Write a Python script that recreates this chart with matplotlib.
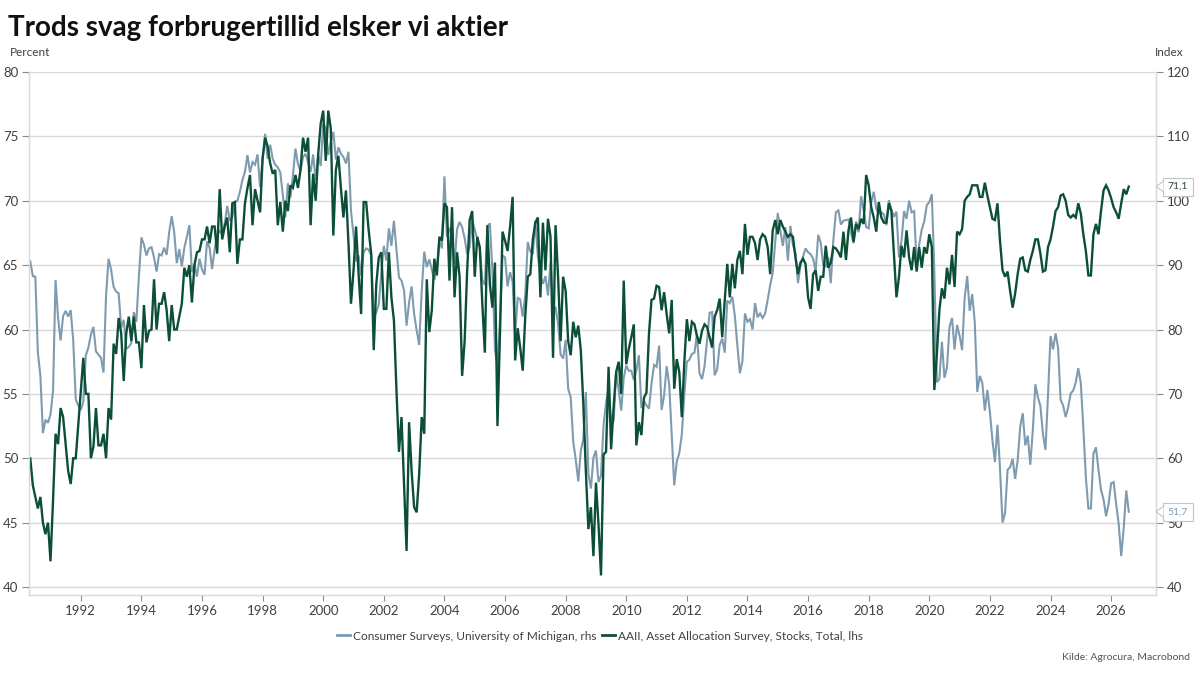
import numpy as np
import matplotlib
matplotlib.use("Agg")
import matplotlib.pyplot as plt
from matplotlib.lines import Line2D
from matplotlib.patches import Polygon, Rectangle

plt.rcParams['font.family'] = ['Lato', 'DejaVu Sans']

# ---------------- data ----------------
start_year, start_month = 1990, 5   # first observation: May 1990, monthly

# University of Michigan consumer sentiment (rhs, index)
michigan = [
    90.6, 88.3, 88.2, 76.4, 72.8, 63.9, 66.0, 65.5,
    66.8, 70.4, 87.7, 81.8, 78.3, 82.1, 82.9, 82.0, 83.0, 78.3, 69.1, 68.2,
    67.5, 68.8, 76.0, 77.2, 79.2, 80.4, 76.6, 76.1, 75.6, 73.3, 85.3, 91.0,
    89.3, 86.6, 85.9, 85.6, 80.3, 81.5, 77.0, 77.3, 77.9, 82.7, 81.2, 88.2,
    94.3, 93.2, 91.5, 92.6, 92.8, 91.2, 89.0, 91.7, 91.5, 92.7, 91.6, 95.1,
    97.6, 95.1, 90.3, 92.5, 89.8, 92.7, 94.4, 96.2, 88.9, 90.2, 88.2, 91.0,
    89.3, 88.5, 93.7, 92.7, 89.4, 92.4, 94.7, 95.3, 94.7, 96.5, 99.2, 96.9,
    97.4, 99.7, 100.0, 101.4, 103.2, 104.5, 107.1, 104.4, 106.0, 105.6, 107.2, 102.1,
    106.6, 110.4, 106.5, 108.7, 106.5, 105.6, 105.2, 104.4, 100.9, 97.4, 102.7, 100.5,
    103.9, 108.1, 105.7, 104.6, 106.8, 107.3, 106.0, 104.5, 107.2, 103.2, 107.2, 105.4,
    112.0, 111.3, 107.1, 109.2, 110.7, 106.4, 108.3, 107.3, 106.8, 105.8, 107.6, 98.4,
    94.7, 90.6, 91.5, 88.4, 92.0, 92.6, 92.4, 91.5, 81.8, 82.7, 83.9, 88.8,
    93.0, 90.7, 95.7, 93.0, 96.9, 92.4, 88.1, 87.6, 86.1, 80.6, 84.2, 86.7,
    82.4, 79.9, 77.6, 86.0, 92.1, 89.7, 90.9, 89.3, 87.7, 89.6, 93.7, 92.6,
    103.8, 94.4, 95.8, 94.2, 90.2, 95.6, 96.7, 95.9, 94.2, 91.7, 92.8, 97.1,
    95.5, 94.1, 92.6, 87.7, 86.9, 96.0, 96.5, 89.1, 76.9, 74.2, 81.6, 91.5,
    91.2, 86.7, 88.9, 87.4, 79.1, 84.9, 84.7, 82.0, 85.4, 93.6, 92.1, 91.7,
    96.9, 91.3, 88.4, 87.1, 88.3, 85.3, 90.4, 83.4, 83.4, 80.9, 76.1, 75.5,
    78.4, 70.8, 69.5, 62.6, 59.8, 56.4, 61.2, 63.0, 70.3, 57.6, 55.3, 60.1,
    61.2, 56.3, 57.3, 65.1, 68.7, 70.8, 66.0, 65.7, 73.5, 70.6, 67.4, 72.5,
    74.4, 73.6, 73.6, 72.2, 73.6, 76.0, 67.8, 68.9, 68.2, 67.7, 71.6, 74.5,
    74.2, 77.5, 67.5, 69.8, 74.3, 71.5, 63.7, 55.8, 59.5, 60.8, 63.7, 69.9,
    75.0, 75.3, 76.2, 76.4, 79.3, 73.2, 72.3, 74.3, 78.3, 82.6, 82.7, 72.9,
    73.8, 77.6, 78.6, 76.4, 84.5, 84.1, 85.1, 82.1, 77.5, 73.2, 75.1, 82.5,
    81.2, 81.6, 80.0, 84.1, 81.9, 82.5, 81.8, 82.5, 84.6, 86.9, 88.8, 93.6,
    98.1, 95.4, 93.0, 95.9, 90.7, 96.1, 93.1, 91.9, 87.2, 90.0, 91.3, 92.6,
    92.0, 91.7, 91.0, 89.0, 94.7, 93.5, 90.0, 89.8, 91.2, 87.2, 93.8, 98.2,
    98.5, 96.3, 96.9, 97.0, 97.1, 95.0, 93.4, 96.8, 95.1, 100.7, 98.5, 95.9,
    95.7, 99.7, 101.4, 98.8, 98.0, 98.2, 97.9, 96.2, 100.1, 98.6, 97.5, 98.3,
    91.2, 93.8, 98.4, 97.2, 100.0, 98.2, 98.4, 89.8, 93.2, 95.5, 96.8, 99.3,
    99.8, 101.0, 89.1, 71.8, 72.3, 78.1, 72.5, 74.1, 80.4, 81.8, 76.9, 80.7,
    79.0, 76.8, 84.9, 88.3, 82.9, 85.5, 81.2, 70.3, 72.8, 71.7, 67.4, 70.6,
    67.2, 62.8, 59.4, 65.2, 58.4, 50.0, 51.5, 58.2, 58.6, 59.9, 56.8, 59.7,
    64.9, 67.0, 62.0, 63.5, 59.0, 64.4, 71.5, 69.5, 68.1, 63.8, 61.3, 69.7,
    79.0, 76.9, 79.4, 77.2, 69.1, 68.2, 66.4, 67.9, 70.1, 70.5, 71.8, 74.0,
    71.7, 64.7, 57.0, 52.2, 52.2, 60.7, 61.7, 58.2, 55.1, 53.6, 51.0, 52.9,
    56.1, 56.3, 52.9, 49.8, 44.8, 49.2, 55.0, 51.7,
]

# AAII Asset Allocation Survey, stocks, total (lhs, percent)
aaii = [
    50.0, 47.9, 47.0, 46.1, 47.0, 45.0, 44.1, 45.0,
    42.0, 46.7, 51.9, 51.1, 53.9, 53.2, 51.1, 49.0, 48.0, 50.0, 50.0, 52.6,
    55.3, 57.8, 55.0, 55.0, 50.0, 50.9, 53.9, 51.0, 51.0, 51.9, 50.0, 53.9,
    53.0, 58.9, 58.1, 60.9, 59.7, 56.0, 59.7, 61.0, 59.1, 61.0, 59.0, 59.0,
    57.0, 61.9, 59.0, 59.9, 60.0, 63.9, 60.0, 62.0, 62.0, 62.9, 61.5, 59.1,
    61.9, 60.0, 60.0, 61.0, 62.0, 64.8, 64.1, 65.0, 62.1, 65.0, 66.0, 66.1,
    67.0, 67.0, 68.0, 66.7, 68.0, 68.0, 65.9, 70.9, 67.0, 68.0, 68.7, 66.0,
    69.8, 69.9, 65.1, 67.0, 67.0, 69.8, 71.0, 72.0, 68.1, 70.9, 70.0, 69.1,
    73.3, 74.9, 74.2, 72.9, 72.1, 72.4, 68.1, 69.9, 67.6, 70.0, 69.2, 71.2,
    71.0, 72.0, 71.0, 72.4, 74.9, 73.8, 74.9, 68.1, 72.1, 70.0, 73.6, 76.0,
    77.0, 73.1, 77.0, 75.6, 67.3, 72.4, 73.5, 71.0, 68.7, 70.8, 66.7, 62.0,
    64.6, 68.0, 64.3, 61.2, 69.9, 69.9, 67.7, 65.9, 58.4, 63.5, 65.6, 66.0,
    61.6, 61.6, 66.0, 62.5, 60.7, 55.3, 50.5, 53.2, 48.0, 42.8, 52.8, 49.0,
    46.2, 45.8, 48.8, 53.2, 51.9, 63.9, 59.8, 61.5, 65.5, 64.2, 67.2, 66.9,
    69.8, 69.5, 63.8, 69.5, 62.5, 66.0, 64.1, 56.4, 59.1, 64.6, 68.5, 69.2,
    64.1, 67.2, 66.4, 62.0, 58.2, 68.1, 63.5, 61.7, 65.2, 52.5, 59.7, 67.6,
    66.9, 66.1, 68.0, 70.3, 57.6, 60.1, 58.6, 56.8, 61.0, 64.1, 64.3, 67.0,
    68.3, 68.7, 62.5, 68.3, 64.6, 68.6, 67.2, 57.8, 68.1, 64.1, 59.1, 64.1,
    63.0, 59.1, 58.0, 60.6, 59.4, 60.3, 58.4, 54.2, 49.0, 44.5, 46.2, 42.4,
    48.1, 44.9, 40.9, 50.3, 50.5, 57.1, 50.7, 54.0, 56.7, 57.5, 55.0, 63.8,
    57.3, 58.5, 59.4, 60.4, 51.0, 52.8, 51.8, 54.7, 55.1, 59.7, 62.3, 62.4,
    63.4, 63.3, 61.5, 62.9, 61.2, 59.7, 62.3, 55.4, 57.7, 56.7, 53.2, 57.5,
    60.8, 59.1, 60.6, 60.4, 59.5, 58.9, 59.9, 60.4, 60.2, 59.4, 58.6, 61.0,
    61.5, 62.4, 59.4, 62.3, 65.1, 62.5, 65.1, 63.2, 65.4, 66.1, 64.3, 68.2,
    65.8, 67.2, 67.2, 66.7, 65.4, 67.0, 67.4, 67.2, 66.4, 64.3, 67.7, 68.5,
    67.4, 68.5, 68.0, 67.6, 67.2, 67.4, 67.2, 65.6, 64.3, 65.2, 65.5, 65.1,
    62.5, 61.6, 64.3, 64.6, 63.0, 64.1, 64.1, 66.5, 64.8, 65.2, 66.4, 66.3,
    66.0, 65.6, 67.6, 65.4, 67.7, 68.7, 66.8, 68.2, 67.8, 68.6, 68.2, 72.0,
    71.2, 69.5, 68.7, 67.6, 69.9, 68.7, 68.3, 68.3, 69.8, 69.2, 65.9, 62.5,
    64.1, 66.5, 65.6, 67.7, 65.6, 64.6, 66.4, 64.5, 66.4, 64.8, 66.4, 65.9,
    67.4, 66.4, 55.3, 58.1, 61.5, 63.2, 62.4, 64.8, 63.5, 65.8, 63.3, 67.6,
    67.4, 67.8, 70.0, 70.3, 70.5, 71.2, 71.2, 71.2, 70.3, 70.3, 71.4, 70.4,
    69.5, 68.6, 68.5, 69.8, 66.9, 64.6, 64.1, 64.5, 63.0, 61.7, 62.8, 64.3,
    65.5, 65.6, 64.6, 64.5, 65.4, 66.1, 67.0, 67.0, 65.9, 64.5, 64.6, 66.4,
    67.0, 68.0, 69.2, 69.5, 70.4, 70.5, 70.0, 68.9, 68.7, 68.9, 68.7, 69.8,
    69.0, 67.4, 66.1, 64.2, 64.2, 67.4, 68.2, 67.4, 69.2, 70.8, 71.2, 70.8,
    70.2, 69.5, 69.1, 68.6, 69.8, 70.9, 70.5, 71.1,
]

year_ticks = list(range(1992, 2027, 2))
lhs_ticks = [40, 45, 50, 55, 60, 65, 70, 75, 80]
rhs_ticks = [40, 50, 60, 70, 80, 90, 100, 110, 120]

title = "Trods svag forbrugertillid elsker vi aktier"
mich_label = "Consumer Surveys, University of Michigan, rhs"
aaii_label = "AAII, Asset Allocation Survey, Stocks, Total, lhs"
source = "Kilde: Agrocura, Macrobond"

# decimal-year time axis (start of month)
n = len(aaii)
t = start_year + (start_month - 1) / 12 + np.arange(n) / 12.0

GREEN = "#0c4f39"
GREY = "#7f9bb0"
TXT = "#404040"
GRID = "#d9d9d9"

# ---------------- figure ----------------
fig = plt.figure(figsize=(12, 6.73), dpi=100)
ax2 = fig.add_axes([0.0244, 0.1159, 0.9389, 0.7771])   # rhs, drawn below
ax = ax2.twinx()
ax.yaxis.tick_left()
ax.yaxis.set_label_position("left")
ax2.yaxis.tick_right()
ax2.yaxis.set_label_position("right")
ax.set_zorder(ax2.get_zorder() + 1)
ax.patch.set_visible(False)

ax2.plot(t, michigan, color=GREY, lw=1.5, label=mich_label, solid_joinstyle="miter")
ax.plot(t, aaii, color=GREEN, lw=1.7, label=aaii_label, solid_joinstyle="miter")

ax.set_xlim(1990.30, 2027.48)
ax.set_ylim(39.38, 80)
ax2.set_ylim(38.76, 120)

ax.set_yticks(lhs_ticks)
ax2.set_yticks(rhs_ticks)
ax2.set_xticks(year_ticks)
ax2.set_xticklabels([str(y) for y in year_ticks])
ax2.grid(axis="y", color=GRID, lw=1.0)
ax2.set_axisbelow(True)

for a in (ax, ax2):
    for s in a.spines.values():
        s.set_color(GRID)
        s.set_linewidth(0.9)
    a.spines["top"].set_visible(False)
    a.tick_params(colors="#8a8a8a", labelcolor=TXT, labelsize=9.5, length=5, width=0.8)
ax.tick_params(axis="y", pad=3)
ax2.tick_params(axis="y", pad=3)
ax2.tick_params(axis="x", pad=3, length=4)
ax.tick_params(axis="x", bottom=False, labelbottom=False)

# axis unit labels
fig.text(10 / 1200, 1 - 53 / 673, "Percent", fontsize=8.5, color=TXT, va="center", ha="left")
fig.text(1184 / 1200, 1 - 53 / 673, "Index", fontsize=8.5, color=TXT, va="center", ha="right")

# title
fig.text(8 / 1200, 1 - 28 / 673, title, fontsize=20, fontweight="bold", color="#111111",
         va="center", ha="left")

# legend
handles = [Line2D([0], [0], color=GREY, lw=2.0), Line2D([0], [0], color=GREEN, lw=2.0)]
fig.legend(handles, [mich_label, aaii_label], loc="center", bbox_to_anchor=(0.5, 1 - 636 / 673),
           ncol=2, frameon=False, fontsize=8.6, handlelength=1.1, handletextpad=0.25,
           columnspacing=0.45, labelcolor=TXT)

# source
fig.text(1190 / 1200, 1 - 657 / 673, source, fontsize=7.5, color="#555555", ha="right", va="center")

# end-value tags on the right
fig.canvas.draw()
def tag(axis, value, text, tcolor):
    _, ypix = axis.transData.transform((t[-1], value))
    H = fig.bbox.height
    yf = ypix / H
    x0, x1, tip = 1163 / 1200, 1193 / 1200, 1156 / 1200
    h = 9 / H
    rect = Rectangle((x0, yf - h), x1 - x0, 2 * h, transform=fig.transFigure,
                     facecolor="white", edgecolor="#c4c4c4", lw=0.8, zorder=5)
    fig.add_artist(rect)
    tri = Polygon([[x0 + 0.5 / 1200, yf + 5 / H], [tip, yf], [x0 + 0.5 / 1200, yf - 5 / H]],
                  closed=True, transform=fig.transFigure, facecolor="white",
                  edgecolor="none", zorder=6)
    fig.add_artist(tri)
    fig.add_artist(Line2D([x0, tip, x0], [yf + 5 / H, yf, yf - 5 / H], transform=fig.transFigure,
                          color="#c4c4c4", lw=0.8, zorder=7))
    fig.text((x0 + x1) / 2, yf, text, fontsize=7.5, color=tcolor, ha="center", va="center",
             zorder=8)

tag(ax, aaii[-1], f"{aaii[-1]:.1f}".replace(".", ","), "#2f4a40")
tag(ax2, michigan[-1], f"{michigan[-1]:.1f}".replace(".", ","), GREY)

fig.savefig("out.png", dpi=100, facecolor="white")
